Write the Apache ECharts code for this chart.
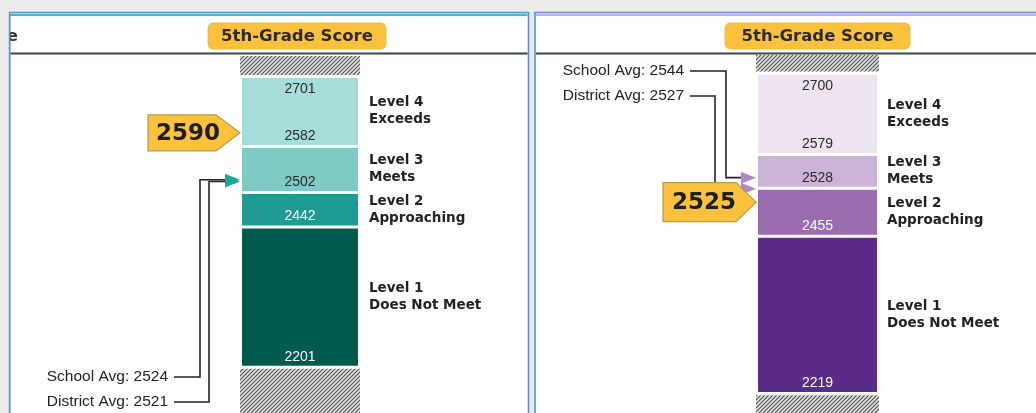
<!DOCTYPE html>
<html><head><meta charset="utf-8">
<script src="https://cdn.jsdelivr.net/npm/echarts@6/dist/echarts.min.js"></script>
<style>html,body{margin:0;padding:0;background:#ebebeb;}#c{width:1036px;height:413px;}</style>
</head><body><div id="c"></div>
<script>
// ---------- data ----------
const headerTitle = '5th-Grade Score';
const categories = ['5th Grade'];
const levelNames = ['Level 1\nDoes Not Meet', 'Level 2\nApproaching', 'Level 3\nMeets', 'Level 4\nExceeds'];
const leftCuts = [2201, 2442, 2502, 2582, 2701];
const rightCuts = [2219, 2455, 2528, 2579, 2700];
const leftScore = 2590;
const rightScore = 2525;
const avgNames = ['School Avg', 'District Avg'];
const leftAvgs = [2524, 2521];
const rightAvgs = [2544, 2527];
const leftAxisRange = [2119, 2739];
const rightAxisRange = [2187, 2730];
const leftOutOfRange = [[2119, 2196], [2706, 2739]];
const rightOutOfRange = [[2187, 2214], [2705, 2730]];

// ---------- styles ----------
const FONT_BOLD = '"DejaVu Sans", "Liberation Sans", sans-serif';
const FONT_REG = '"Liberation Sans", Arial, sans-serif';
const LEFT = {
  grid: {left: 250, top: 56, width: 100, height: 357},
  barW: 116, hatchW: 120, nameGap: 11,
  colors: ['#005b4f', '#1e9a90', '#7ecbc6', '#a6dcda'],
  valueColors: ['#ffffff', '#ffffff', '#2a2a2a', '#2a2a2a'],
  arrowColor: '#17a89c',
  vertOff: [-42, -33], textY: [377, 402],
  markW: 92, markH: 36, markPt: 24, markDy: -9
};
const RIGHT = {
  grid: {left: 767, top: 55, width: 101, height: 358},
  barW: 119, hatchW: 123, nameGap: 10,
  colors: ['#5b2c87', '#9a6db0', '#ccb3d8', '#eee4f1'],
  valueColors: ['#ffffff', '#ffffff', '#2a2a2a', '#2a2a2a'],
  arrowColor: '#b386cb',
  vertOff: [-32, -43], textY: [71, 96],
  markW: 93, markH: 39, markPt: 20, markDy: 12
};

function hatchPattern() {
  const c = document.createElement('canvas');
  c.width = 4; c.height = 4;
  const g = c.getContext('2d');
  g.fillStyle = '#e2e2e2'; g.fillRect(0, 0, 4, 4);
  g.strokeStyle = '#4c4c4c'; g.lineWidth = 1.05;
  g.beginPath();
  g.moveTo(-1, 1); g.lineTo(1, -1);
  g.moveTo(0, 4); g.lineTo(4, 0);
  g.moveTo(3, 5); g.lineTo(5, 3);
  g.stroke();
  return {image: c, repeat: 'repeat'};
}
const HATCH = hatchPattern();

function txt(text, x, y, fill, font, align, lineHeight) {
  return {type: 'text', silent: true, style: {
    text: text, x: x, y: y, fill: fill, font: font,
    align: align, textAlign: align, verticalAlign: 'middle', textVerticalAlign: 'middle',
    lineHeight: lineHeight || 16
  }};
}

function levelRenderer(P) {
  const n = levelNames.length;
  return function (params, api) {
    const lo = api.value(1), hi = api.value(2), i = api.value(3);
    const pLo = api.coord([0, lo]), pHi = api.coord([0, hi]);
    const x0 = pLo[0] - P.barW / 2;
    const yT = pHi[1] + (i === n - 1 ? 0 : 1.5);
    const yB = pLo[1] - (i === 0 ? 0 : 1.5);
    const kids = [{type: 'rect', shape: {x: x0, y: yT, width: P.barW, height: yB - yT}, style: {fill: P.colors[i]}}];
    kids.push(txt(String(lo), pLo[0], yB - 9, P.valueColors[i], '14px ' + FONT_REG, 'center'));
    if (i === n - 1) kids.push(txt(String(hi), pLo[0], yT + 11, P.valueColors[i], '14px ' + FONT_REG, 'center'));
    kids.push(txt(levelNames[i], x0 + P.barW + P.nameGap, (yT + yB) / 2, '#222', 'bold 13.5px ' + FONT_BOLD, 'left', 17));
    return {type: 'group', children: kids};
  };
}

function hatchRenderer(P) {
  return function (params, api) {
    const pLo = api.coord([0, api.value(1)]), pHi = api.coord([0, api.value(2)]);
    return {type: 'rect', shape: {x: pLo[0] - P.hatchW / 2, y: pHi[1], width: P.hatchW, height: pLo[1] - pHi[1]},
      style: {fill: HATCH}};
  };
}

function avgRenderer(P) {
  return function (params, api) {
    const v = api.value(1), i = api.value(2);
    const p = api.coord([0, v]);
    const barLeft = p[0] - P.barW / 2;
    const vx = barLeft + P.vertOff[i];
    const ty = P.textY[i];
    const y = p[1];
    return {type: 'group', children: [
      txt(avgNames[i] + ': ' + v, barLeft - 74, ty, '#222', '15.5px ' + FONT_REG, 'right'),
      {type: 'polyline', shape: {points: [[barLeft - 68, ty], [vx, ty], [vx, y], [barLeft - 15, y]]},
        style: {stroke: '#222', lineWidth: 1.6, fill: null}},
      {type: 'polygon', shape: {points: [[barLeft - 17, y - 6], [barLeft - 2, y], [barLeft - 17, y + 6]]},
        style: {fill: P.arrowColor}}
    ]};
  };
}

function scoreRenderer(P) {
  return function (params, api) {
    const v = api.value(1);
    const p = api.coord([0, v]);
    const tx = p[0] - P.barW / 2 - 2;
    const ty = p[1] + P.markDy;
    const h = P.markH / 2;
    return {type: 'group', children: [
      {type: 'polygon', shape: {points: [[tx - P.markW, ty - h], [tx - P.markPt, ty - h], [tx, ty], [tx - P.markPt, ty + h], [tx - P.markW, ty + h]]},
        style: {fill: '#fcc23c', stroke: '#b39b4c', lineWidth: 1.2}},
      txt(String(v), tx - 52, ty + 1, '#1e1e1e', 'bold 23px ' + FONT_BOLD, 'center')
    ]};
  };
}

function panelSeries(P, idx, cuts, outRange, avgs, score) {
  const base = {type: 'custom', coordinateSystem: 'cartesian2d', xAxisIndex: idx, yAxisIndex: idx, silent: true, animation: false};
  return [
    Object.assign({}, base, {name: 'hatch' + idx, z: 2, renderItem: hatchRenderer(P), encode: {x: 0, y: [1, 2]},
      data: outRange.map(r => [0, r[0], r[1]])}),
    Object.assign({}, base, {name: 'levels' + idx, z: 3, renderItem: levelRenderer(P), encode: {x: 0, y: [1, 2]},
      data: cuts.slice(0, -1).map((lo, i) => [0, lo, cuts[i + 1], i])}),
    Object.assign({}, base, {name: 'avgs' + idx, z: 4, renderItem: avgRenderer(P), encode: {x: 0, y: 1},
      data: avgs.map((v, i) => [0, v, i])}),
    Object.assign({}, base, {name: 'score' + idx, z: 5, renderItem: scoreRenderer(P), encode: {x: 0, y: 1},
      data: [[0, score]]})
  ];
}

function panelGraphics(x, w, accent, badgeX, badgeW) {
  return [
    {type: 'rect', z: -10, silent: true, shape: {x: x, y: 12.5, width: w, height: 430}, style: {fill: '#fff', stroke: '#5b8fd1', lineWidth: 1.6}},
    {type: 'rect', z: -9, silent: true, shape: {x: x + 1, y: 13.8, width: w - 2, height: 2.2}, style: {fill: accent}},
    {type: 'rect', z: -9, silent: true, shape: {x: x + 1, y: 52.5, width: w - 2, height: 2}, style: {fill: '#3b4747'}},
    {type: 'rect', z: -8, silent: true, shape: {x: badgeX, y: 23, width: badgeW, height: 26, r: 5}, style: {fill: '#fcc23c', stroke: '#e9b43a', lineWidth: 0.8}},
    {type: 'text', z: -7, silent: true, style: {text: headerTitle, x: badgeX + badgeW / 2, y: 36.5, fill: '#2a2a2a', font: 'bold 16.5px ' + FONT_BOLD,
      align: 'center', textAlign: 'center', verticalAlign: 'middle', textVerticalAlign: 'middle'}}
  ];
}

const chart = echarts.init(document.getElementById('c'), null, {renderer: 'canvas'});
chart.setOption({
  animation: false,
  backgroundColor: 'transparent',
  grid: [Object.assign({}, LEFT.grid), Object.assign({}, RIGHT.grid)],
  xAxis: [
    {type: 'category', gridIndex: 0, data: categories, show: false},
    {type: 'category', gridIndex: 1, data: categories, show: false}
  ],
  yAxis: [
    {type: 'value', gridIndex: 0, min: leftAxisRange[0], max: leftAxisRange[1], show: false, splitLine: {show: false}},
    {type: 'value', gridIndex: 1, min: rightAxisRange[0], max: rightAxisRange[1], show: false, splitLine: {show: false}}
  ],
  graphic: {elements: [].concat(
    panelGraphics(9.5, 519, '#3cc0b6', 208, 178),
    panelGraphics(535, 520, '#c9a8d9', 725, 185),
    [
      {type: 'text', z: -7, silent: true, style: {text: 'e', x: 7, y: 36.5, fill: '#333', font: 'bold 16px ' + FONT_BOLD, verticalAlign: 'middle', textVerticalAlign: 'middle'}},
      {type: 'rect', z: -6, silent: true, shape: {x: 0, y: 0, width: 9, height: 413}, style: {fill: '#ebebeb'}},
      {type: 'rect', z: -6, silent: true, shape: {x: 8.8, y: 12.5, width: 1.6, height: 413}, style: {fill: '#5b8fd1'}}
    ]
  )},
  series: [].concat(
    panelSeries(LEFT, 0, leftCuts, leftOutOfRange, leftAvgs, leftScore),
    panelSeries(RIGHT, 1, rightCuts, rightOutOfRange, rightAvgs, rightScore)
  )
});
</script>
</body></html>
